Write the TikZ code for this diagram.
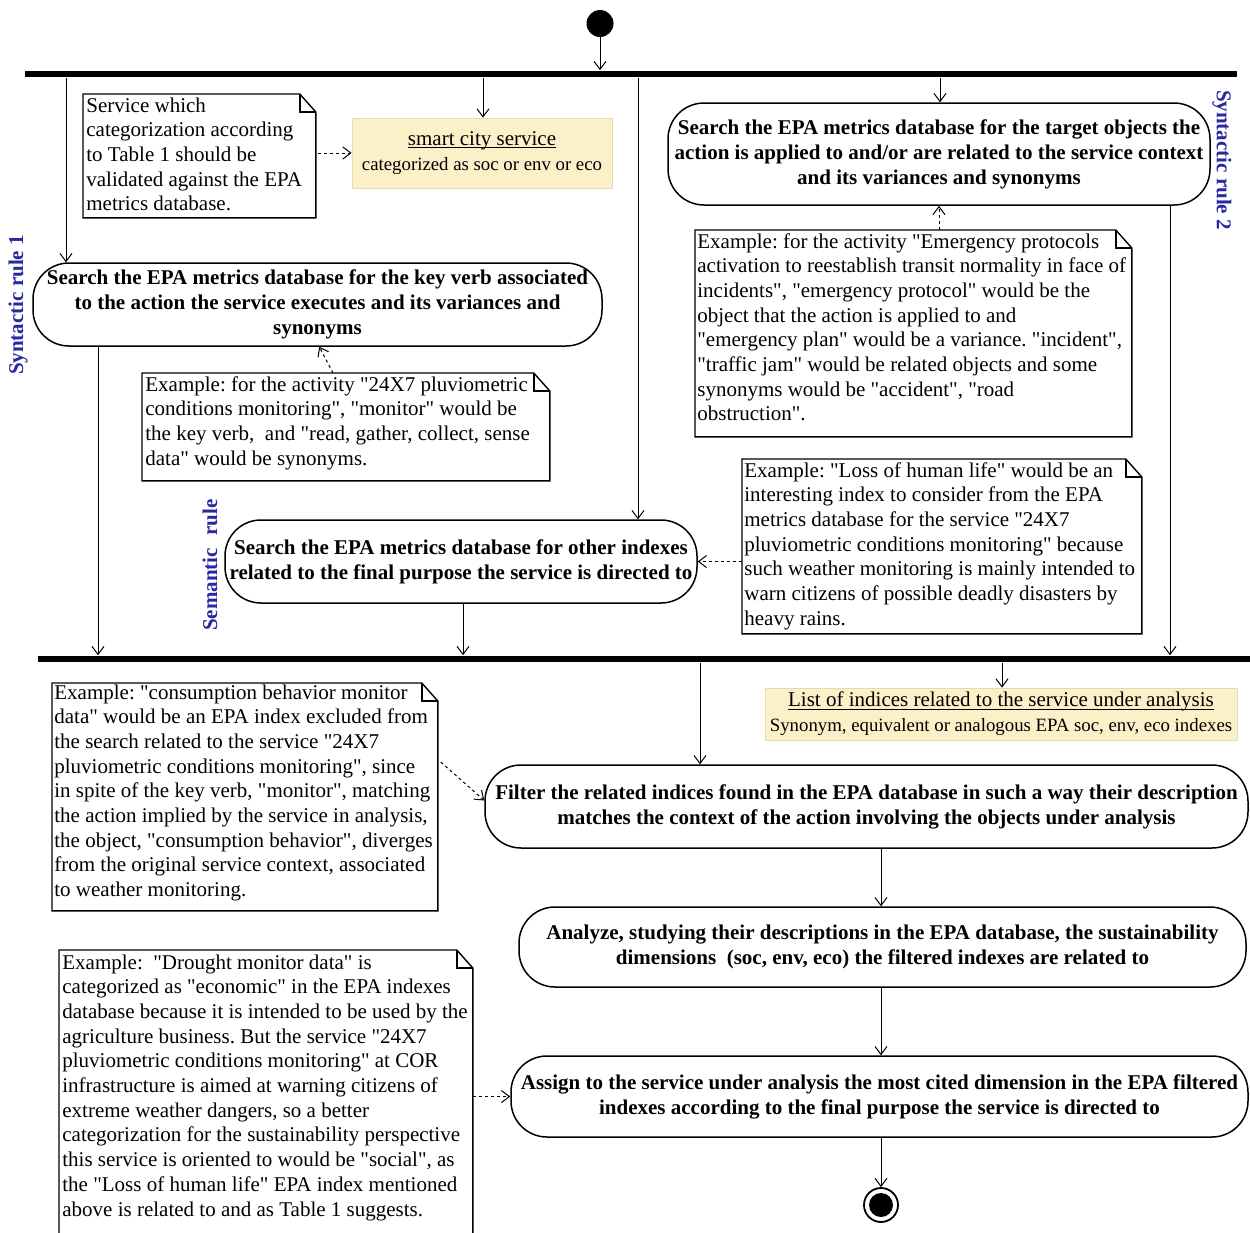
\documentclass[tikz,border=0pt]{standalone}
\usepackage{fontspec}
\setmainfont{Liberation Serif}[Ligatures=TeXOff]
\usetikzlibrary{arrows.meta,calc}
\definecolor{objfill}{RGB}{252,240,200}
\definecolor{objline}{RGB}{228,218,182}
\definecolor{rulecol}{RGB}{40,40,160}
\frenchspacing
\newcommand{\nlines}[1]{\begin{tabular}[t]{@{}l@{}}#1\end{tabular}}
\newcommand{\objtitle}[1]{{\fontsize{10.5}{12.5}\selectfont\setbox0\hbox{#1}\rlap{\rule[-1.3pt]{\wd0}{0.45pt}}\box0}}
\begin{document}
\begin{tikzpicture}[x=0.5pt,y=-0.5pt,
  arr/.style={-{Straight Barb[length=4pt,width=6pt]}, line width=0.5pt},
  darr/.style={arr, dash pattern=on 1.5pt off 1.5pt},
  bar/.style={fill=black, inner sep=0pt, minimum height=3.4pt},
  action/.style={draw, line width=0.75pt, rounded corners=18pt, align=center, inner sep=0pt, font=\fontsize{10.5}{12.5}\selectfont\bfseries},
  objbox/.style={fill=objfill, draw=objline, line width=0.4pt, align=center, inner sep=0pt, font=\fontsize{9.4}{12.5}\selectfont},
  notebox/.style={inner sep=0pt, anchor=north west},
  notetext/.style={inner sep=0pt, anchor=base west, font=\fontsize{10.5}{12.35}\selectfont},
  noteline/.style={line width=0.7pt},
  rulelabel/.style={text=rulecol, font=\fontsize{10.5}{12}\selectfont\bfseries, inner sep=0pt}
]
\useasboundingbox (0,0) rectangle (1250,1233);
\clip (0,0) rectangle (1250,1233);
\fill[white] (0,0) rectangle (1250,1233);

% start, bars
\node[circle, fill=black, minimum size=13.5pt, inner sep=0pt] (start) at (600,23.5) {};
\node[bar, minimum width=606pt] (fork) at (631,74) {};
\node[bar, minimum width=606pt] (join) at (644,659) {};

% objects
\node[objbox, minimum width=130pt, minimum height=35pt] (obj1) at (482,153) {\objtitle{smart city service}\\categorized as soc or env or eco};
\node[objbox, minimum width=236pt, minimum height=26pt] (obj2) at (1001,714) {\objtitle{List of indices related to the service under analysis}\\Synonym, equivalent or analogous EPA soc, env, eco indexes};

% actions
\node[action, minimum width=284.5pt, minimum height=41.5pt] (a1) at (317.5,304.5) {Search the EPA metrics database for the key verb associated\\to the action the service executes and its variances and\\synonyms};
\node[action, minimum width=271pt, minimum height=51pt] (a2) at (939,154) {Search the EPA metrics database for the target objects the\\action is applied to and/or are related to the service context\\and its variances and synonyms};
\node[action, minimum width=236pt, minimum height=41.5pt] (a3) at (461,561.5) {Search the EPA metrics database for other indexes\\related to the final purpose the service is directed to};
\node[action, minimum width=381.5pt, minimum height=41.5pt] (f) at (866.5,806.5) {Filter the related indices found in the EPA database in such a way their description\\matches the context of the action involving the objects under analysis};
\node[action, minimum width=363.5pt, minimum height=40pt] (an) at (882.5,947) {Analyze, studying their descriptions in the EPA database, the sustainability\\dimensions\ \ (soc, env, eco) the filtered indexes are related to};
\node[action, minimum width=368.5pt, minimum height=40.5pt] (as) at (879.5,1096.5) {Assign to the service under analysis the most cited dimension in the EPA filtered\\indexes according to the final purpose the service is directed to};

% end
\node[circle, draw, line width=0.9pt, minimum size=17pt, inner sep=0pt, path picture={\fill (path picture bounding box.center) circle (6pt);}] (end) at (881,1205) {};

% notes
\node[notebox, minimum width=116pt, minimum height=61.5pt] (n1) at (83,94) {};
\node[notetext] (n1t) at (86,112) {\nlines{Service which\\categorization according\\to Table 1 should be\\validated against the EPA\\metrics database.}};

\node[notebox, minimum width=203.5pt, minimum height=53.5pt] (n2) at (142,373) {};
\node[notetext] (n2t) at (145,391) {\nlines{Example: for the activity "24X7 pluviometric\\conditions monitoring", "monitor" would be\\the key verb,\ \ and "read, gather, collect, sense\\data" would be synonyms.}};

\node[notebox, minimum width=218pt, minimum height=103pt] (n3) at (695,230) {};
\node[notetext] (n3t) at (697,248) {\nlines{Example: for the activity "Emergency protocols\\activation to reestablish transit normality in face of\\incidents", "emergency protocol" would be the\\object that the action is applied to and\\"emergency plan" would be a variance. "incident",\\"traffic jam" would be related objects and some\\synonyms would be "accident", "road\\obstruction".}};

\node[notebox, minimum width=199.5pt, minimum height=87pt] (n4) at (742,459) {};
\node[notetext] (n4t) at (744,477) {\nlines{Example: "Loss of human life" would be an\\interesting index to consider from the EPA\\metrics database for the service "24X7\\pluviometric conditions monitoring" because\\such weather monitoring is mainly intended to\\warn citizens of possible deadly disasters by\\heavy rains.}};

\node[notebox, minimum width=192.5pt, minimum height=113.5pt] (n5) at (52,683) {};
\node[notetext] (n5t) at (54,699) {\nlines{Example: "consumption behavior monitor\\data" would be an EPA index excluded from\\the search related to the service "24X7\\pluviometric conditions monitoring", since\\in spite of the key verb, "monitor", matching\\the action implied by the service in analysis,\\the object, "consumption behavior", diverges\\from the original service context, associated\\to weather monitoring.}};

\node[notebox, minimum width=206.5pt, minimum height=145pt] (n6) at (59,950) {};
\node[notetext] (n6t) at (62,969) {\nlines{Example:\ \ "Drought monitor data" is\\categorized as "economic" in the EPA indexes\\database because it is intended to be used by the\\agriculture business. But the service "24X7\\pluviometric conditions monitoring" at COR\\infrastructure is aimed at warning citizens of\\extreme weather dangers, so a better\\categorization for the sustainability perspective\\this service is oriented to would be "social", as\\the "Loss of human life" EPA index mentioned\\above is related to and as Table 1 suggests.}};

\foreach \n in {n1,n2,n3,n4,n5,n6}{
  \draw[noteline] (\n.north west) -- ([xshift=-8pt]\n.north east) -- ([yshift=-9pt]\n.north east) -- (\n.south east) -- (\n.south west) -- cycle;
  \draw[noteline] ([xshift=-8pt]\n.north east) |- ([yshift=-9pt]\n.north east);
}

% rule labels
\node[rulelabel, rotate=90] (lab1) at (18,305) {Syntactic rule 1};
\node[rulelabel, rotate=-90] (lab2) at (1222,160) {Syntactic rule 2};
\node[rulelabel, rotate=90] (lab3) at (210,565) {Semantic\hspace{0.6em}rule};

% x positions of flow lines
\coordinate (x66) at (66,0);
\coordinate (x483) at (483,0);
\coordinate (x638) at (638,0);
\coordinate (x940) at (940,0);
\coordinate (x98) at (98,0);
\coordinate (x463) at (463,0);
\coordinate (x1170) at (1170,0);
\coordinate (x700) at (700,0);
\coordinate (x1002) at (1002,0);
\coordinate (x881) at (881,0);

% control flow
\draw[arr] (start.south) -- (start.south |- fork.north);
\draw[arr] (fork.south -| x66) -- (x66 |- a1.north);
\draw[arr] (fork.south -| x483) -- (x483 |- obj1.north);
\draw[arr] (fork.south -| x638) -- (x638 |- a3.north);
\draw[arr] (fork.south -| x940) -- (x940 |- a2.north);
\draw[arr] (a1.south -| x98) -- (x98 |- join.north);
\draw[arr] (a3.south -| x463) -- (x463 |- join.north);
\draw[arr] (a2.south -| x1170) -- (x1170 |- join.north);
\draw[arr] (join.south -| x700) -- (x700 |- f.north);
\draw[arr] (join.south -| x1002) -- (x1002 |- obj2.north);
\draw[arr] (f.south -| x881) -- (x881 |- an.north);
\draw[arr] (an.south -| x881) -- (x881 |- as.north);
\draw[arr] (as.south -| x881) -- (end.north);

% note anchors
\draw[darr] ([xshift=1pt]n1.east |- obj1.west) -- (obj1.west);
\draw[darr] ([xshift=95.5pt]n2.north west) -- ([xshift=143.5pt]a1.south west);
\draw[darr] (a2.south |- n3.north) -- (a2.south);
\draw[darr] (n4.west |- a3.east) -- (a3.east);
\draw[darr] ([shift={(1.5pt,-39.5pt)}]n5.north east) -- ([yshift=3pt]f.west);
\draw[darr] (n6.east |- as.west) -- (as.west);
\end{tikzpicture}
\end{document}
